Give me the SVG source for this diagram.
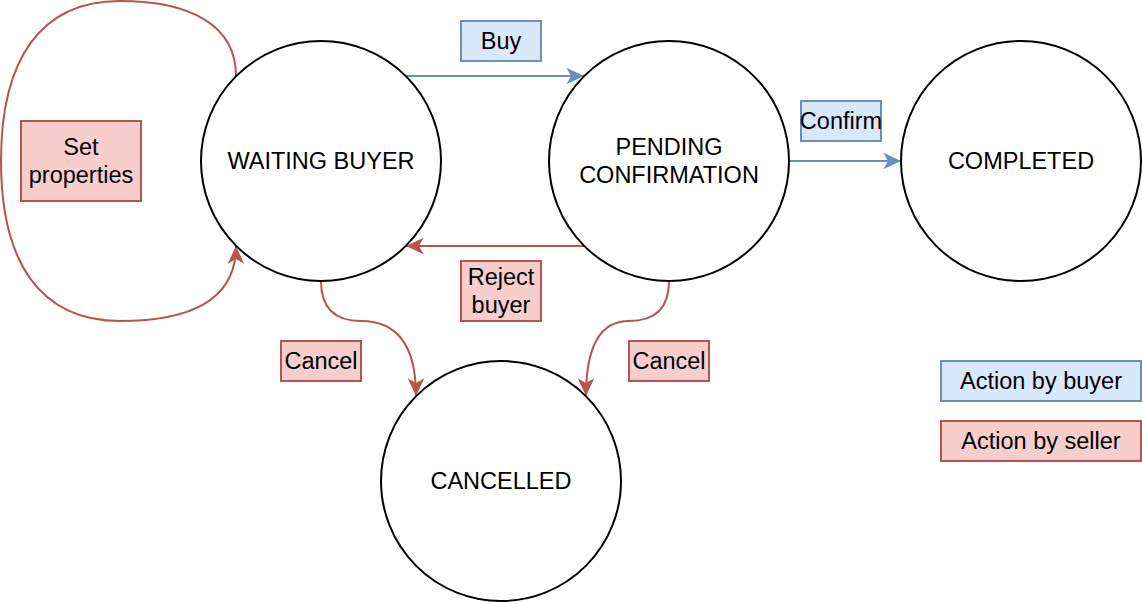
<svg xmlns="http://www.w3.org/2000/svg" width="1142" height="602" viewBox="0 0 1142 602">
  <style>
    text { font-family: "Liberation Sans", Arial, sans-serif; font-size: 23.5px; fill: #000; text-anchor: middle; dominant-baseline: central; }
    .state { fill: #fff; stroke: #000; stroke-width: 2; }
    .buyer { fill: #dae8fc; stroke: #6c8ebf; stroke-width: 2; }
    .seller { fill: #f8cecc; stroke: #b85450; stroke-width: 2; }
    .eb { fill: none; stroke: #6c8ebf; stroke-width: 2; }
    .es { fill: none; stroke: #b85450; stroke-width: 2; }
  </style>
  <defs>
    <marker id="ab" markerUnits="userSpaceOnUse" markerWidth="20" markerHeight="20" viewBox="-16 -8 17 16" refX="0" refY="0" orient="auto">
      <path d="M0,0 L-15,-7 L-11,0 L-15,7 Z" fill="#6c8ebf"/>
    </marker>
    <marker id="as" markerUnits="userSpaceOnUse" markerWidth="20" markerHeight="20" viewBox="-16 -8 17 16" refX="0" refY="0" orient="auto">
      <path d="M0,0 L-15,-7 L-11,0 L-15,7 Z" fill="#b85450"/>
    </marker>
  </defs>

  <g id="connectors">
    <path class="es" d="M236,76 C236,25 190,1 120,1 C40,1 1,60 1,161 C1,262 40,321 120,321 C190,321 236,300 236,246" marker-end="url(#as)"/>
    <path class="eb" d="M406,76 L584,76" marker-end="url(#ab)"/>
    <path class="es" d="M584,246 L406,246" marker-end="url(#as)"/>
    <path class="eb" d="M789,161 L901,161" marker-end="url(#ab)"/>
    <path class="es" d="M321,281 Q321,321 361,321 Q416,321 416,396" marker-end="url(#as)"/>
    <path class="es" d="M669,281 Q669,321 629,321 Q586,321 586,396" marker-end="url(#as)"/>
  </g>

  <g id="waiting-buyer">
    <circle class="state" cx="321" cy="161" r="120"/>
    <text x="321" y="161">WAITING BUYER</text>
  </g>
  <g id="pending-confirmation">
    <circle class="state" cx="669" cy="161" r="120"/>
    <text x="669" y="147">PENDING</text>
    <text x="669" y="175">CONFIRMATION</text>
  </g>
  <g id="completed">
    <circle class="state" cx="1021" cy="161" r="120"/>
    <text x="1021" y="161">COMPLETED</text>
  </g>
  <g id="cancelled">
    <circle class="state" cx="501" cy="481" r="120"/>
    <text x="501" y="481">CANCELLED</text>
  </g>

  <g id="label-buy">
    <rect class="buyer" x="461" y="21" width="80" height="40"/>
    <text x="501" y="41">Buy</text>
  </g>
  <g id="label-confirm">
    <rect class="buyer" x="801" y="101" width="80" height="40"/>
    <text x="841" y="121">Confirm</text>
  </g>
  <g id="label-set-properties">
    <rect class="seller" x="21" y="121" width="120" height="80"/>
    <text x="81" y="147">Set</text>
    <text x="81" y="175">properties</text>
  </g>
  <g id="label-reject-buyer">
    <rect class="seller" x="461" y="261" width="80" height="60"/>
    <text x="501" y="277">Reject</text>
    <text x="501" y="305">buyer</text>
  </g>
  <g id="label-cancel-1">
    <rect class="seller" x="281" y="341" width="80" height="40"/>
    <text x="321" y="361">Cancel</text>
  </g>
  <g id="label-cancel-2">
    <rect class="seller" x="629" y="341" width="80" height="40"/>
    <text x="669" y="361">Cancel</text>
  </g>
  <g id="legend-buyer">
    <rect class="buyer" x="941" y="361" width="200" height="40"/>
    <text x="1041" y="381">Action by buyer</text>
  </g>
  <g id="legend-seller">
    <rect class="seller" x="941" y="421" width="200" height="40"/>
    <text x="1041" y="441">Action by seller</text>
  </g>
</svg>
